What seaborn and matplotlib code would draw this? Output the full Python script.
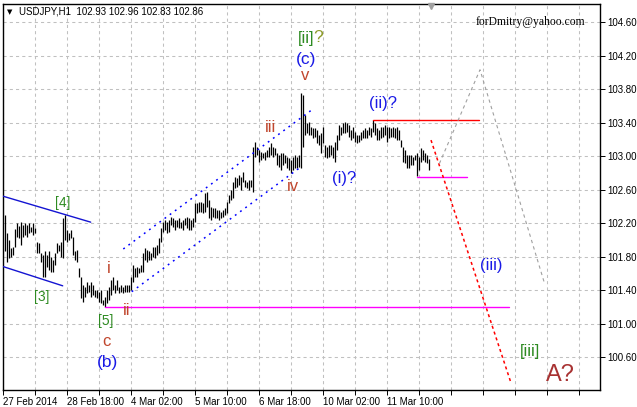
import numpy as np
import pandas as pd
import matplotlib
matplotlib.use("Agg")
import matplotlib.pyplot as plt
import seaborn as sns

# ---------------- data ----------------
symbol = "USDJPY,H1"
last_ohlc = [102.93, 102.96, 102.83, 102.86]

highs = [
    102.30, 102.08, 102.00, 101.90, 101.91, 102.13, 102.20, 102.16, 102.21, 102.18,
    102.20, 102.18, 102.20, 102.15, 102.20, 102.14, 101.97, 101.96, 101.84, 101.82,
    101.86, 101.82, 101.86, 101.80, 101.76, 101.84, 101.96, 101.94, 101.97, 102.26,
    102.30, 102.12, 102.08, 102.12, 102.03, 101.86, 101.88, 101.66, 101.55, 101.46,
    101.44, 101.49, 101.46, 101.49, 101.46, 101.40, 101.40, 101.38, 101.40, 101.28,
    101.32, 101.40, 101.43, 101.52, 101.56, 101.46, 101.52, 101.44, 101.46, 101.44,
    101.46, 101.46, 101.46, 101.56, 101.70, 101.66, 101.68, 101.66, 101.70, 101.84,
    101.90, 101.88, 101.86, 101.84, 101.91, 101.91, 101.94, 102.02, 102.14, 102.21,
    102.24, 102.21, 102.24, 102.27, 102.26, 102.24, 102.24, 102.26, 102.21, 102.24,
    102.26, 102.27, 102.26, 102.24, 102.26, 102.44, 102.44, 102.45, 102.45, 102.44,
    102.56, 102.57, 102.48, 102.39, 102.38, 102.38, 102.36, 102.36, 102.33, 102.36,
    102.38, 102.45, 102.54, 102.60, 102.69, 102.75, 102.74, 102.77, 102.75, 102.81,
    102.71, 102.69, 102.71, 102.71, 103.11, 103.17, 103.11, 103.07, 103.05, 103.04,
    103.05, 103.07, 103.11, 103.16, 103.11, 103.10, 103.04, 103.01, 103.04, 103.04,
    103.01, 102.99, 102.98, 102.95, 102.99, 103.01, 102.99, 103.01, 103.75, 103.73,
    103.49, 103.39, 103.41, 103.35, 103.34, 103.34, 103.31, 103.25, 103.28, 103.35,
    103.13, 103.11, 103.13, 103.13, 103.11, 103.17, 103.25, 103.37, 103.35, 103.39,
    103.41, 103.39, 103.37, 103.31, 103.35, 103.29, 103.25, 103.25, 103.29, 103.31,
    103.34, 103.31, 103.35, 103.34, 103.43, 103.39, 103.34, 103.31, 103.35, 103.35,
    103.37, 103.35, 103.35, 103.34, 103.35, 103.34, 103.35, 103.31, 103.19, 103.11,
    103.07, 103.01, 103.01, 103.01, 102.99, 103.01, 103.04, 102.99, 103.10, 103.07,
    103.04, 103.01, 102.96,
]
lows = [
    101.87, 101.74, 101.78, 101.80, 101.82, 101.91, 102.03, 102.02, 101.94, 102.03,
    102.06, 102.03, 102.08, 102.09, 102.06, 102.08, 101.84, 101.84, 101.74, 101.55,
    101.56, 101.68, 101.64, 101.62, 101.62, 101.70, 101.84, 101.86, 101.80, 101.78,
    102.00, 101.97, 102.00, 102.02, 101.82, 101.76, 101.74, 101.55, 101.31, 101.26,
    101.32, 101.37, 101.38, 101.32, 101.34, 101.32, 101.31, 101.26, 101.25, 101.22,
    101.20, 101.25, 101.28, 101.34, 101.40, 101.37, 101.40, 101.37, 101.38, 101.37,
    101.38, 101.38, 101.38, 101.40, 101.49, 101.56, 101.56, 101.60, 101.62, 101.62,
    101.76, 101.74, 101.76, 101.76, 101.80, 101.78, 101.82, 101.84, 101.97, 102.09,
    102.12, 102.08, 102.09, 102.18, 102.15, 102.12, 102.15, 102.14, 102.14, 102.12,
    102.18, 102.14, 102.12, 102.12, 102.15, 102.21, 102.32, 102.33, 102.33, 102.32,
    102.33, 102.39, 102.26, 102.24, 102.27, 102.26, 102.26, 102.24, 102.26, 102.27,
    102.30, 102.32, 102.44, 102.48, 102.50, 102.62, 102.63, 102.65, 102.60, 102.69,
    102.63, 102.62, 102.60, 102.63, 102.57, 102.99, 103.01, 102.93, 102.95, 102.98,
    102.95, 102.99, 102.99, 103.01, 102.99, 103.01, 102.89, 102.87, 102.83, 102.89,
    102.92, 102.86, 102.83, 102.80, 102.83, 102.86, 102.86, 102.87, 102.86, 103.11,
    103.25, 103.28, 103.25, 103.25, 103.22, 103.23, 103.16, 103.13, 103.04, 103.16,
    102.99, 102.98, 102.99, 103.01, 102.98, 102.93, 103.07, 103.19, 103.25, 103.28,
    103.28, 103.29, 103.23, 103.19, 103.22, 103.17, 103.16, 103.17, 103.19, 103.22,
    103.22, 103.22, 103.25, 103.23, 103.29, 103.25, 103.19, 103.19, 103.22, 103.23,
    103.25, 103.17, 103.22, 103.23, 103.23, 103.22, 103.19, 103.19, 103.11, 102.93,
    102.92, 102.86, 102.86, 102.89, 102.89, 102.95, 102.76, 102.83, 102.93, 102.95,
    102.93, 102.92, 102.83,
]

date_labels = ["27 Feb 2014", "28 Feb 18:00", "4 Mar 02:00", "5 Mar 10:00",
               "6 Mar 18:00", "10 Mar 02:00", "11 Mar 10:00"]
price_ticks = [100.60, 101.00, 101.40, 101.80, 102.20, 102.60, 103.00,
               103.40, 103.80, 104.20, 104.60]

# trend / wave lines (bar index, price)
chan4_upper_x = [0, 43.85]
chan4_upper_y = [102.52, 102.21]
chan4_lower_x = [0, 29.85]
chan4_lower_y = [101.68, 101.45]
imp_upper_x = [60.15, 154.35]
imp_upper_y = [101.89, 103.55]
imp_lower_x = [64.35, 149.5]
imp_lower_y = [101.38, 102.88]
support_long_x = [51, 253]
support_long_y = [101.20, 101.20]
support_short_x = [207, 232]
support_short_y = [102.75, 102.75]
resist_x = [185, 238]
resist_y = [103.43, 103.43]
proj_red_x = [214, 254]
proj_red_y = [103.19, 100.29]
proj_gray_x = [218.2, 238.5, 270.5]
proj_gray_y = [102.91, 104.03, 101.50]

# wave labels
lab_text = ["[4]", "[3]", "[5]", "c", "(b)", "i", "ii", "iii", "iv", "v",
            "(c)", "[ii]", "?", "(i)?", "(ii)?", "(iii)", "[iii]", "A?"]
lab_x = [30, 19.5, 51.5, 51.5, 52.5, 53, 62, 134, 145, 151,
         151.5, 151.5, 157.4, 170.6, 190, 244, 263.7, 278.5]
lab_y = [102.44, 101.32, 101.03, 100.78, 100.54, 101.66, 101.16, 103.34, 102.63, 103.96,
         104.15, 104.40, 104.41, 102.73, 103.63, 101.69, 100.67, 100.39]

# ---------------- style ----------------
sns.set_theme(style="white")
plt.rcParams["font.family"] = ["Liberation Sans", "DejaVu Sans"]

GREEN = "#2E8B22"
OLIVE = "#8C9A28"
BROWN = "#C0462D"
BLUE = "#1A1AE6"
DARKRED = "#A83232"
lab_color = [GREEN, GREEN, GREEN, BROWN, BLUE, BROWN, BROWN, BROWN, BROWN, BROWN,
             BLUE, GREEN, OLIVE, BLUE, BLUE, BLUE, GREEN, DARKRED]
lab_size = [10, 10, 10, 12, 12.5, 12, 12, 12, 12, 12,
            12.5, 12, 12.5, 12, 12, 12, 12, 17]

W, H = 637, 407
fig = plt.figure(figsize=(W / 100, H / 100), dpi=100)
fig.patch.set_facecolor("white")
ax = fig.add_axes([3 / W, 17 / H, 597 / W, 386 / H])
ax.set_facecolor("white")

x = np.arange(1, len(highs) + 1)
bars = pd.DataFrame({"bar": x, "high": highs, "low": lows})

# grid
xgrid = np.arange(0, 299, 16)
ax.set_xticks(xgrid)
xlabels = []
for i, v in enumerate(xgrid):
    k = i // 2
    xlabels.append(date_labels[k] if (i % 2 == 0 and k < len(date_labels)) else "")
ax.set_xticklabels(xlabels)
for lbl in ax.get_xticklabels():
    lbl.set_horizontalalignment("left")
ax.set_yticks(price_ticks)
ax.set_yticklabels([f"{p:.2f}" for p in price_ticks])
ax.yaxis.tick_right()
ax.grid(True, color="#C0C0C0", linestyle=(0, (3, 3)), linewidth=0.75)
ax.set_axisbelow(True)
ax.tick_params(axis="both", which="major", labelsize=7, length=3.5, width=0.7,
               color="black", direction="out", pad=1.5, labelcolor="black")
ax.tick_params(axis="y", right=True, left=False)
ax.tick_params(axis="x", bottom=True)
for s in ax.spines.values():
    s.set_color("black")
    s.set_linewidth(1.0)

# bars
ax.vlines(bars["bar"], bars["low"], bars["high"], color="black", linewidth=0.9,
          zorder=3)

# lines via seaborn
def sline(xs, ys, **kw):
    sns.lineplot(x=xs, y=ys, ax=ax, sort=False, estimator=None, legend=False, **kw)

sline(chan4_upper_x, chan4_upper_y, color="#1414D2", linewidth=1.0, zorder=4)
sline(chan4_lower_x, chan4_lower_y, color="#1414D2", linewidth=1.0, zorder=4)
sline(imp_upper_x, imp_upper_y, color="#0000FF", linewidth=1.1, linestyle=(0, (1.2, 3)), zorder=4)
sline(imp_lower_x, imp_lower_y, color="#0000FF", linewidth=1.1, linestyle=(0, (1.2, 3)), zorder=4)
sline(support_long_x, support_long_y, color="#FF00FF", linewidth=1.0, zorder=4)
sline(support_short_x, support_short_y, color="#FF00FF", linewidth=1.0, zorder=4)
sline(resist_x, resist_y, color="#FF0000", linewidth=1.0, zorder=4)
sline(proj_red_x, proj_red_y, color="#FF0000", linewidth=1.1, linestyle=(0, (2, 2)), zorder=4)
sline(proj_gray_x, proj_gray_y, color="#A0A0A0", linewidth=0.8, linestyle=(0, (3, 3)), zorder=4)

ax.set_xlim(0, 298.5)
ax.set_ylim(100.206, 104.815)
ax.set_xlabel("")
ax.set_ylabel("")

# shift marker
ax.plot([214], [104.79], marker="v", color="#A0A0A0", markersize=5, zorder=5, clip_on=False)

# labels
for t, lx, ly, c, s in zip(lab_text, lab_x, lab_y, lab_color, lab_size):
    ax.text(lx, ly, t, color=c, fontsize=s, ha="center", va="center", zorder=6)

# header and signature
fig.text(10 / W, 1 - 12 / H, "▼", fontsize=5, ha="center", va="center",
         family=["DejaVu Sans"], color="black")
fig.text(19 / W, 1 - 12 / H,
         symbol + "  " + " ".join(f"{v:.2f}" for v in last_ohlc),
         fontsize=7, ha="left", va="center", color="black")
fig.text(530 / W, 1 - 22 / H, "forDmitry@yahoo.com", fontsize=8.4,
         family=["Liberation Serif", "DejaVu Serif"], ha="center", va="center", color="black")

fig.savefig("out.png", dpi=100)
